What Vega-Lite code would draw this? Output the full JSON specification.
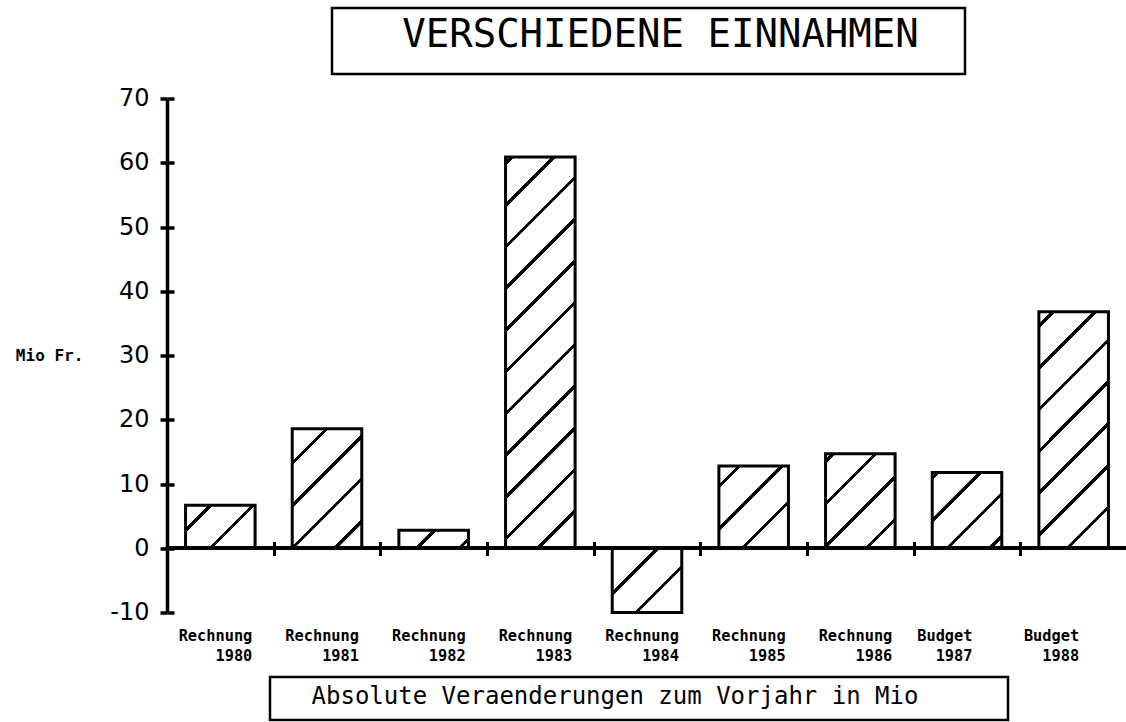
{
  "$schema": "https://vega.github.io/schema/vega-lite/v6.json",
  "padding": {"left": 15, "top": 6, "right": 0, "bottom": 0},
  "background": "white",
  "spacing": 10.5,
  "config": {
    "view": {"stroke": null},
    "axis": {"grid": false, "domainColor": "#000", "tickColor": "#000", "labelColor": "#000", "titleColor": "#000"}
  },
  "vconcat": [
    {
      "spacing": 0,
      "hconcat": [
        {"width": 163, "height": 66, "data": {"values": [{}]}, "mark": {"type": "point", "opacity": 0}},
        {
          "width": 633, "height": 66,
          "view": {"stroke": "#000", "strokeWidth": 2.5},
          "data": {"values": [{"t": "VERSCHIEDENE EINNAHMEN"}]},
          "mark": {"type": "text", "font": "DejaVu Sans Mono", "fontSize": 39, "color": "#000", "dx": 12, "dy": -6},
          "encoding": {"text": {"field": "t"}}
        }
      ]
    },
    {
      "width": 960, "height": 514,
      "data": {"values": [
        {"cat": "Rechnung 1980", "v": 6.7},
        {"cat": "Rechnung 1981", "v": 18.6},
        {"cat": "Rechnung 1982", "v": 2.8},
        {"cat": "Rechnung 1983", "v": 60.9},
        {"cat": "Rechnung 1984", "v": -10},
        {"cat": "Rechnung 1985", "v": 12.8},
        {"cat": "Rechnung 1986", "v": 14.7},
        {"cat": "Budget 1987", "v": 11.8},
        {"cat": "Budget 1988", "v": 36.8}
      ]},
      "resolve": {"axis": {"x": "independent", "y": "independent"}},
      "layer": [
        {
          "mark": {"type": "bar", "stroke": "#000", "strokeWidth": 3},
          "encoding": {
            "x": {
              "field": "cat", "type": "nominal", "sort": null,
              "scale": {"paddingInner": 0.348, "paddingOuter": 0.174},
              "axis": {
                "orient": "bottom", "title": null, "domain": false, "ticks": false, "tickSize": 0,
                "labelExpr": "split(datum.value, ' ')", "labelAlign": "right", "labelBaseline": "top",
                "labelPadding": 16, "labelLineHeight": 20, "labelAngle": 0,
                "labelFont": "DejaVu Sans Mono", "labelFontWeight": "bold", "labelFontSize": 15.3,
                "labelOffset": {"condition": {"test": "indexof(datum.value, 'Budget') === 0", "value": 5.5}, "value": 32},
                "labelOverlap": false, "labelFlush": false
              }
            },
            "y": {
              "field": "v", "type": "quantitative",
              "scale": {"domain": [-10, 70], "nice": false, "zero": false},
              "axis": {
                "orient": "left", "values": [-10, 0, 10, 20, 30, 40, 50, 60, 70],
                "labelExpr": "'' + datum.value",
                "domainWidth": 3.5, "tickWidth": 3.5, "tickSize": 7, "labelPadding": 11,
                "labelFont": "DejaVu Sans", "labelFontSize": 24, "labelFlush": false, "labelOverlap": false,
                "title": "Mio Fr.", "titleAngle": 0, "titleAlign": "right", "titleBaseline": "middle",
                "titleFont": "DejaVu Sans Mono", "titleFontWeight": "bold", "titleFontSize": 16, "titlePadding": 27
              }
            },
            "fill": {
              "condition": [
                {"test": "datum.cat === 'Rechnung 1980'", "value": {"gradient": "linear", "x1": 0, "y1": 0, "x2": 1.1705, "y2": 0.7245, "stops": [
                  {"offset": 0, "color": "#fff"},
                  {"offset": 0.2021, "color": "#fff"}, {"offset": 0.2021, "color": "#000"}, {"offset": 0.2429, "color": "#000"}, {"offset": 0.2429, "color": "#fff"},
                  {"offset": 0.5795, "color": "#fff"}, {"offset": 0.5795, "color": "#000"}, {"offset": 0.6203, "color": "#000"}, {"offset": 0.6203, "color": "#fff"},
                  {"offset": 1, "color": "#fff"}]}},
                {"test": "datum.cat === 'Rechnung 1981'", "value": {"gradient": "linear", "x1": 0, "y1": 0, "x2": 0.6877, "y2": 1.1817, "stops": [
                  {"offset": 0, "color": "#fff"},
                  {"offset": 0.1703, "color": "#fff"}, {"offset": 0.1703, "color": "#000"}, {"offset": 0.1947, "color": "#000"}, {"offset": 0.1947, "color": "#fff"},
                  {"offset": 0.3951, "color": "#fff"}, {"offset": 0.3951, "color": "#000"}, {"offset": 0.4195, "color": "#000"}, {"offset": 0.4195, "color": "#fff"},
                  {"offset": 0.6199, "color": "#fff"}, {"offset": 0.6199, "color": "#000"}, {"offset": 0.6443, "color": "#000"}, {"offset": 0.6443, "color": "#fff"},
                  {"offset": 0.8447, "color": "#fff"}, {"offset": 0.8447, "color": "#000"}, {"offset": 0.8691, "color": "#000"}, {"offset": 0.8691, "color": "#fff"},
                  {"offset": 1, "color": "#fff"}]}},
                {"test": "datum.cat === 'Rechnung 1982'", "value": {"gradient": "linear", "x1": 0, "y1": 0, "x2": 1.1797, "y2": 0.3052, "stops": [
                  {"offset": 0, "color": "#fff"},
                  {"offset": 0.3848, "color": "#fff"}, {"offset": 0.3848, "color": "#000"}, {"offset": 0.4374, "color": "#000"}, {"offset": 0.4374, "color": "#fff"},
                  {"offset": 0.8703, "color": "#fff"}, {"offset": 0.8703, "color": "#000"}, {"offset": 0.9229, "color": "#000"}, {"offset": 0.9229, "color": "#fff"},
                  {"offset": 1, "color": "#fff"}]}},
                {"test": "datum.cat === 'Rechnung 1983'", "value": {"gradient": "linear", "x1": 0, "y1": 0, "x2": 0.20293, "y2": 1.14168, "stops": [
                  {"offset": 0, "color": "#fff"},
                  {"offset": 0.0093, "color": "#fff"}, {"offset": 0.0093, "color": "#000"}, {"offset": 0.0193, "color": "#000"}, {"offset": 0.0193, "color": "#fff"},
                  {"offset": 0.0998, "color": "#fff"}, {"offset": 0.0998, "color": "#000"}, {"offset": 0.1098, "color": "#000"}, {"offset": 0.1098, "color": "#fff"},
                  {"offset": 0.1903, "color": "#fff"}, {"offset": 0.1903, "color": "#000"}, {"offset": 0.2003, "color": "#000"}, {"offset": 0.2003, "color": "#fff"},
                  {"offset": 0.2808, "color": "#fff"}, {"offset": 0.2808, "color": "#000"}, {"offset": 0.2908, "color": "#000"}, {"offset": 0.2908, "color": "#fff"},
                  {"offset": 0.3713, "color": "#fff"}, {"offset": 0.3713, "color": "#000"}, {"offset": 0.3813, "color": "#000"}, {"offset": 0.3813, "color": "#fff"},
                  {"offset": 0.4618, "color": "#fff"}, {"offset": 0.4618, "color": "#000"}, {"offset": 0.4718, "color": "#000"}, {"offset": 0.4718, "color": "#fff"},
                  {"offset": 0.5523, "color": "#fff"}, {"offset": 0.5523, "color": "#000"}, {"offset": 0.5623, "color": "#000"}, {"offset": 0.5623, "color": "#fff"},
                  {"offset": 0.6428, "color": "#fff"}, {"offset": 0.6428, "color": "#000"}, {"offset": 0.6528, "color": "#000"}, {"offset": 0.6528, "color": "#fff"},
                  {"offset": 0.7332, "color": "#fff"}, {"offset": 0.7332, "color": "#000"}, {"offset": 0.7432, "color": "#000"}, {"offset": 0.7432, "color": "#fff"},
                  {"offset": 0.8237, "color": "#fff"}, {"offset": 0.8237, "color": "#000"}, {"offset": 0.8337, "color": "#000"}, {"offset": 0.8337, "color": "#fff"},
                  {"offset": 0.9142, "color": "#fff"}, {"offset": 0.9142, "color": "#000"}, {"offset": 0.9242, "color": "#000"}, {"offset": 0.9242, "color": "#fff"},
                  {"offset": 1, "color": "#fff"}]}},
                {"test": "datum.cat === 'Rechnung 1984'", "value": {"gradient": "linear", "x1": 0, "y1": 0, "x2": 1.038, "y2": 0.9589, "stops": [
                  {"offset": 0, "color": "#fff"},
                  {"offset": 0.3232, "color": "#fff"}, {"offset": 0.3232, "color": "#000"}, {"offset": 0.3576, "color": "#000"}, {"offset": 0.3576, "color": "#fff"},
                  {"offset": 0.6409, "color": "#fff"}, {"offset": 0.6409, "color": "#000"}, {"offset": 0.6753, "color": "#000"}, {"offset": 0.6753, "color": "#fff"},
                  {"offset": 1, "color": "#fff"}]}},
                {"test": "datum.cat === 'Rechnung 1985'", "value": {"gradient": "linear", "x1": 0, "y1": 0, "x2": 0.91006, "y2": 1.07611, "stops": [
                  {"offset": 0, "color": "#fff"},
                  {"offset": 0.1208, "color": "#fff"}, {"offset": 0.1208, "color": "#000"}, {"offset": 0.1511, "color": "#000"}, {"offset": 0.1511, "color": "#fff"},
                  {"offset": 0.4008, "color": "#fff"}, {"offset": 0.4008, "color": "#000"}, {"offset": 0.4311, "color": "#000"}, {"offset": 0.4311, "color": "#fff"},
                  {"offset": 0.6808, "color": "#fff"}, {"offset": 0.6808, "color": "#000"}, {"offset": 0.7111, "color": "#000"}, {"offset": 0.7111, "color": "#fff"},
                  {"offset": 1, "color": "#fff"}]}},
                {"test": "datum.cat === 'Rechnung 1986'", "value": {"gradient": "linear", "x1": 0, "y1": 0, "x2": 0.82906, "y2": 1.12584, "stops": [
                  {"offset": 0, "color": "#fff"},
                  {"offset": 0.0314, "color": "#fff"}, {"offset": 0.0314, "color": "#000"}, {"offset": 0.0595, "color": "#000"}, {"offset": 0.0595, "color": "#fff"},
                  {"offset": 0.2906, "color": "#fff"}, {"offset": 0.2906, "color": "#000"}, {"offset": 0.3186, "color": "#000"}, {"offset": 0.3186, "color": "#fff"},
                  {"offset": 0.5497, "color": "#fff"}, {"offset": 0.5497, "color": "#000"}, {"offset": 0.5777, "color": "#000"}, {"offset": 0.5777, "color": "#fff"},
                  {"offset": 0.8089, "color": "#fff"}, {"offset": 0.8089, "color": "#000"}, {"offset": 0.8369, "color": "#000"}, {"offset": 0.8369, "color": "#fff"},
                  {"offset": 1, "color": "#fff"}]}},
                {"test": "datum.cat === 'Budget 1987'", "value": {"gradient": "linear", "x1": 0, "y1": 0, "x2": 0.95513, "y2": 1.04124, "stops": [
                  {"offset": 0, "color": "#fff"},
                  {"offset": 0.0242, "color": "#fff"}, {"offset": 0.0242, "color": "#000"}, {"offset": 0.0559, "color": "#000"}, {"offset": 0.0559, "color": "#fff"},
                  {"offset": 0.3166, "color": "#fff"}, {"offset": 0.3166, "color": "#000"}, {"offset": 0.3482, "color": "#000"}, {"offset": 0.3482, "color": "#fff"},
                  {"offset": 0.6089, "color": "#fff"}, {"offset": 0.6089, "color": "#000"}, {"offset": 0.6406, "color": "#000"}, {"offset": 0.6406, "color": "#fff"},
                  {"offset": 0.9013, "color": "#fff"}, {"offset": 0.9013, "color": "#000"}, {"offset": 0.9329, "color": "#000"}, {"offset": 0.9329, "color": "#fff"},
                  {"offset": 1, "color": "#fff"}]}},
                {"test": "datum.cat === 'Budget 1988'", "value": {"gradient": "linear", "x1": 0, "y1": 0, "x2": 0.35036, "y2": 1.19109, "stops": [
                  {"offset": 0, "color": "#fff"},
                  {"offset": 0.0399, "color": "#fff"}, {"offset": 0.0399, "color": "#000"}, {"offset": 0.0549, "color": "#000"}, {"offset": 0.0549, "color": "#fff"},
                  {"offset": 0.1762, "color": "#fff"}, {"offset": 0.1762, "color": "#000"}, {"offset": 0.1912, "color": "#000"}, {"offset": 0.1912, "color": "#fff"},
                  {"offset": 0.3124, "color": "#fff"}, {"offset": 0.3124, "color": "#000"}, {"offset": 0.3275, "color": "#000"}, {"offset": 0.3275, "color": "#fff"},
                  {"offset": 0.4487, "color": "#fff"}, {"offset": 0.4487, "color": "#000"}, {"offset": 0.4638, "color": "#000"}, {"offset": 0.4638, "color": "#fff"},
                  {"offset": 0.585, "color": "#fff"}, {"offset": 0.585, "color": "#000"}, {"offset": 0.6, "color": "#000"}, {"offset": 0.6, "color": "#fff"},
                  {"offset": 0.7213, "color": "#fff"}, {"offset": 0.7213, "color": "#000"}, {"offset": 0.7363, "color": "#000"}, {"offset": 0.7363, "color": "#fff"},
                  {"offset": 0.8575, "color": "#fff"}, {"offset": 0.8575, "color": "#000"}, {"offset": 0.8726, "color": "#000"}, {"offset": 0.8726, "color": "#fff"},
                  {"offset": 1, "color": "#fff"}]}}
              ],
              "value": "#fff"
            }
          }
        },
        {
          "mark": {"type": "rule", "strokeWidth": 3.5, "color": "#000"},
          "encoding": {"y": {"datum": 0, "type": "quantitative", "axis": null}}
        },
        {
          "mark": {"type": "bar", "opacity": 0},
          "encoding": {
            "x": {
              "field": "cat", "type": "nominal", "sort": null,
              "axis": {"orient": "bottom", "title": null, "domain": false, "labels": false, "tickOffset": 53.33, "tickSize": 14, "tickWidth": 3, "offset": -71}
            },
            "y": {
              "field": "v", "type": "quantitative",
              "axis": {"orient": "left", "title": null, "domain": false, "labels": false, "values": [-10, 0, 10, 20, 30, 40, 50, 60, 70], "tickSize": 7, "tickWidth": 3.5, "offset": -7}
            }
          }
        }
      ]
    },
    {
      "spacing": 0,
      "hconcat": [
        {"width": 101, "height": 43, "data": {"values": [{}]}, "mark": {"type": "point", "opacity": 0}},
        {
          "width": 738, "height": 43,
          "view": {"stroke": "#000", "strokeWidth": 2.5},
          "data": {"values": [{"t": "Absolute Veraenderungen zum Vorjahr in Mio"}]},
          "mark": {"type": "text", "font": "DejaVu Sans Mono", "fontSize": 24, "color": "#000", "dx": -24, "dy": -2},
          "encoding": {"text": {"field": "t"}}
        }
      ]
    }
  ]
}
